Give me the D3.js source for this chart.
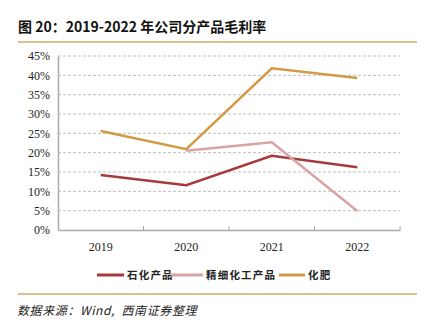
<!DOCTYPE html>
<html><head><meta charset="utf-8">
<script src="https://cdn.jsdelivr.net/npm/d3@7"></script>
<style>body{margin:0;background:#fff}svg{display:block}</style>
</head><body>
<svg id="c" width="425" height="325"></svg>
<script>
const years = ["2019","2020","2021","2022"];
const seriesNames = ["石化产品","精细化工产品","化肥"];
const petro = [14.2, 11.6, 19.2, 16.2];
const fine = [null, 20.5, 22.7, 4.9];
const fert = [25.6, 20.9, 41.8, 39.3];
const yTicks = [0,5,10,15,20,25,30,35,40,45];
const colors = ["#A63A3A","#D9A3A3","#D29A45"];

const svg = d3.select("#c");
const m = {l:58, r:400, t:56, b:230};
const x = d3.scaleBand().domain(years).range([m.l, m.r]);
const y = d3.scaleLinear().domain([0,45]).range([m.b, m.t]);

// title
svg.append("text").attr("x",18).attr("y",32).attr("font-family","Noto Sans CJK SC").attr("font-weight","bold").attr("font-size",14).attr("fill","#111").text("图 20：2019-2022 年公司分产品毛利率");
svg.append("line").attr("x1",18).attr("x2",417).attr("y1",42).attr("y2",42).attr("stroke","#D9A86A").attr("stroke-width",1.5);

// grid
svg.append("g").selectAll("line").data(yTicks.filter(d=>d>0)).join("line")
  .attr("x1",m.l).attr("x2",m.r).attr("y1",d=>y(d)).attr("y2",d=>y(d))
  .attr("stroke","#bfbfbf").attr("stroke-width",1).attr("stroke-dasharray","3,2");

// y axis
const ya = svg.append("g").attr("transform",`translate(${m.l},0)`).call(d3.axisLeft(y).tickValues(yTicks).tickSize(0).tickPadding(8).tickFormat(d=>d+"%"));
ya.select(".domain").attr("stroke","#aaaaaa").attr("stroke-width",1.5);
ya.selectAll("text").attr("font-family","'Liberation Serif', serif").attr("font-size",12).attr("fill","#222");

// x axis
const xa = svg.append("g").attr("transform",`translate(0,${m.b})`).call(d3.axisBottom(x).tickSize(0).tickPadding(12));
xa.select(".domain").attr("stroke","#aaaaaa").attr("stroke-width",1.5);
xa.selectAll("text").attr("font-family","'Liberation Serif', serif").attr("font-size",12).attr("fill","#222");
svg.append("g").selectAll("line").data(years.slice(1).concat(["end"])).join("line")
  .attr("x1",(d,i)=> i<3 ? x(d) : m.r).attr("x2",(d,i)=> i<3 ? x(d) : m.r)
  .attr("y1",m.b).attr("y2",m.b-4).attr("stroke","#aaaaaa").attr("stroke-width",1);

// lines
const data = [petro, fine, fert];
const line = d3.line().defined(d=>d.v!=null).x(d=>x(d.k)+x.bandwidth()/2).y(d=>y(d.v));
data.forEach((s,i)=>{
  svg.append("path").datum(years.map((k,j)=>({k, v:s[j]})))
    .attr("d",line).attr("fill","none").attr("stroke",colors[i]).attr("stroke-width",2.5);
});

// legend
const lx = [97, 171, 279];
const lw = [27, 32, 26];
const tx = [127, 206, 308];
seriesNames.forEach((n,i)=>{
  svg.append("line").attr("x1",lx[i]).attr("x2",lx[i]+lw[i]).attr("y1",275).attr("y2",275).attr("stroke",colors[i]).attr("stroke-width",3);
  svg.append("text").attr("x",tx[i]).attr("y",279).attr("font-family","Noto Sans CJK SC").attr("font-weight","bold").attr("font-size",10.5).attr("letter-spacing",1.2).attr("fill","#222").text(n);
});

svg.append("line").attr("x1",18).attr("x2",417).attr("y1",294).attr("y2",294).attr("stroke","#D9A86A").attr("stroke-width",1.5);
svg.append("text").attr("x",17).attr("y",315).attr("font-family","Noto Sans CJK SC").attr("font-style","italic").attr("font-size",12).attr("letter-spacing",0.6).attr("fill","#222").style("white-space","pre").text("数据来源：Wind,  西南证券整理");
</script>
</body></html>
